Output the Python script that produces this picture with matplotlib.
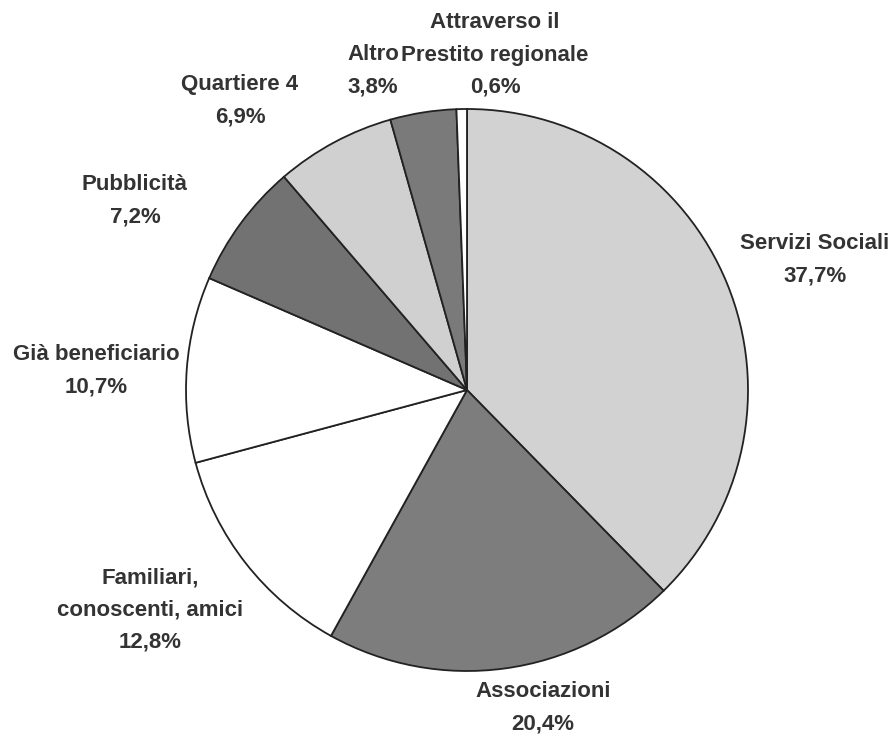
import matplotlib.pyplot as plt

# data (clockwise from top)
categorie = ['Servizi Sociali', 'Associazioni', 'Familiari,\nconoscenti, amici',
             'Già beneficiario', 'Pubblicità', 'Quartiere 4', 'Altro',
             'Attraverso il\nPrestito regionale']
percentuali = [37.7, 20.4, 12.8, 10.7, 7.2, 6.9, 3.8, 0.6]
etichette = ['37,7%', '20,4%', '12,8%', '10,7%', '7,2%', '6,9%', '3,8%', '0,6%']

colori = ['#d2d2d2', '#7d7d7d', '#ffffff', '#ffffff', '#727272', '#d0d0d0', '#7a7a7a', '#ffffff']
# label centres in pixel coords (x, y from top)
pos_label = [(815, 260), (543, 708), (150, 610), (96, 371), (135, 201),
             (240, 101), (373, 71), (495, 55)]

fig = plt.figure(figsize=(8.95, 7.4), dpi=100)
ax = fig.add_axes([0, 0, 1, 1])

ax.pie(percentuali, colors=colori, startangle=90, counterclock=False,
       center=(467, 740 - 390), radius=281, frame=True,
       wedgeprops=dict(edgecolor='#222222', linewidth=1.3))
ax.set_xlim(0, 895)
ax.set_ylim(0, 740)
ax.axis('off')

for cat, lab, (x, y) in zip(categorie, etichette, pos_label):
    ax.text(x, 740 - y, cat + '\n' + lab, ha='center', va='center',
            fontsize=16, fontweight='bold', color='#333333',
            family='Liberation Sans', linespacing=1.7)

fig.savefig('out.png', dpi=100)
